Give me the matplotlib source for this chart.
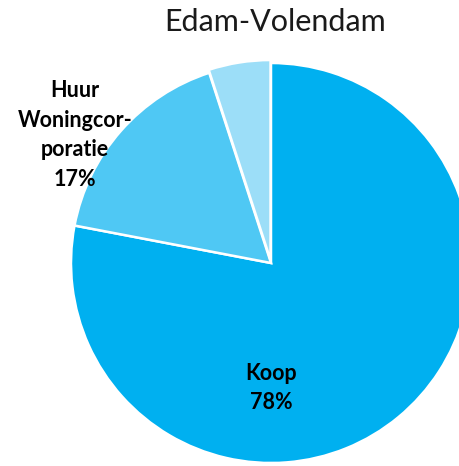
import matplotlib.pyplot as plt

# data
categories = ["Koop", "Huur\nWoningcor-\nporatie", ""]
shares = [78, 17, 5]
colors = ["#00B0F0", "#4FC8F4", "#9CDEF8"]
explode = [0, 0, 0.015]

# where the labels sit (data units, radius = 1)
label_pos = [(0.0, -0.625), (-0.98, 0.64), None]

plt.rcParams["font.family"] = ["Lato", "DejaVu Sans"]

fig = plt.figure(figsize=(4.59, 4.66), dpi=100)
ax = fig.add_axes([0, 0, 1, 1])

ax.pie(shares, colors=colors, startangle=90, counterclock=False,
       explode=explode, radius=1.0,
       wedgeprops=dict(edgecolor="white", linewidth=1.8))

for name, val, pos in zip(categories, shares, label_pos):
    if pos is None:
        continue
    ax.text(pos[0], pos[1], f"{name}\n{val}%", ha="center", va="center",
            fontsize=15.5, fontweight="bold", linespacing=1.5, color="black")

ax.text(0.02, 1.205, "Edam-Volendam", ha="center", va="center",
        fontsize=22, color="#1a1a1a")

# 1 data unit = 200 px, pie centre at (271, 263) px from top-left
ax.set_xlim(-271 / 200, (459 - 271) / 200)
ax.set_ylim(-(466 - 263) / 200, 263 / 200)
ax.set_aspect("equal")
ax.axis("off")

fig.savefig("out.png", dpi=100)
